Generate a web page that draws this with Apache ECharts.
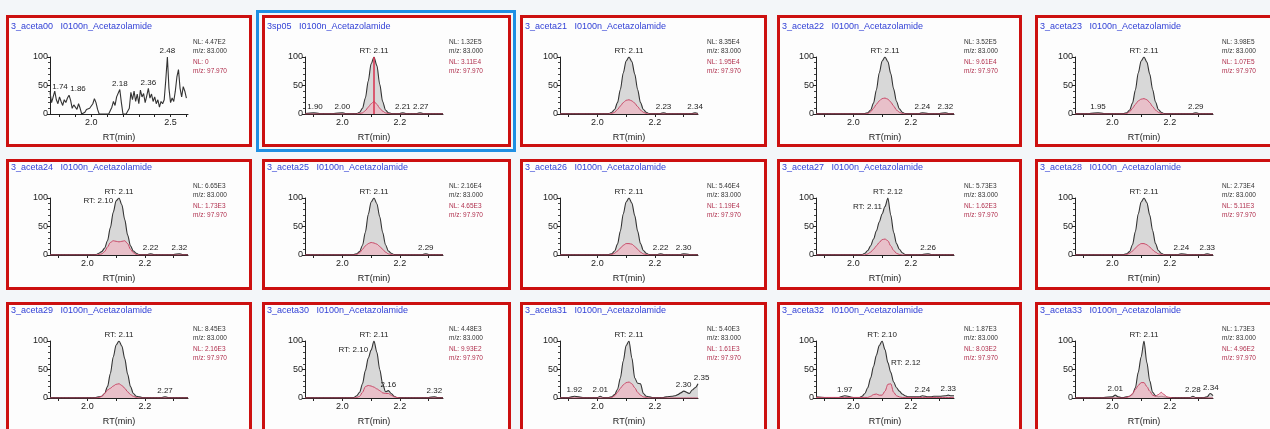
<!DOCTYPE html>
<html>
<head>
<meta charset="utf-8">
<script src="https://cdn.jsdelivr.net/npm/echarts@6/dist/echarts.min.js"></script>
<style>
html,body{margin:0;padding:0;background:#f3f6f9;}
#c{width:1270px;height:429px;}
</style>
</head>
<body>
<div id="c"></div>
<script>
// ---- retention-time grids (min) ----
const rtNoise = [1.74,1.75,1.76,1.77,1.78,1.79,1.80,1.81,1.82,1.83,
  1.84,1.85,1.86,1.87,1.88,1.89,1.90,1.91,1.92,1.93,
  1.94,1.95,1.96,1.97,1.98,1.99,2.00,2.01,2.02,2.03,
  2.04,2.05,2.06,2.07,2.08,2.09,2.10,2.11,2.12,2.13,
  2.14,2.15,2.16,2.17,2.18,2.19,2.20,2.21,2.22,2.23,
  2.24,2.25,2.26,2.27,2.28,2.29,2.30,2.31,2.32,2.33,
  2.34,2.35,2.36,2.37,2.38,2.39,2.40,2.41,2.42,2.43,
  2.44,2.45,2.46,2.47,2.48,2.49,2.50,2.51,2.52,2.53,
  2.54,2.55,2.56,2.57,2.58,2.59,2.60];
const rtGrid = [1.87,1.90,1.92,1.95,1.97,
  2.00,2.01,2.02,2.03,2.04,2.05,2.06,2.07,2.08,2.09,
  2.10,2.11,2.12,2.13,2.14,2.15,2.16,2.17,2.18,2.19,
  2.20,2.21,2.22,2.23,2.24,
  2.26,2.27,2.28,2.29,2.30,2.32,2.33,2.34,2.35];

// ---- relative abundance (%), m/z 83.000 and m/z 97.970 ----
const aceta00_83 = [38,20,30,40,25,18,30,22,15,25,
  20,28,33,24,10,16,12,8,18,10,
  0,0,3,8,9,10,12,18,27,20,
  8,0,0,0,0,0,0,0,0,12,
  22,15,30,32,43,20,0,0,0,0,
  10,38,25,40,22,35,18,42,30,36,
  20,32,45,28,35,22,30,18,25,12,
  22,18,25,60,100,45,20,28,22,40,
  65,78,45,30,48,40,28];
const sp05_83   = [1,2,1,1,1, 2,1,1,1,1,1,3,10,28,58, 88,100,85,52,22,7,2,1,1,1, 1,2,1,1,1, 1,2,1,1,1,1,1,1,1];
const sp05_98   = [0,0,0,0,0, 0,0,0,0,0,0,1,2,6,12, 18,22,17,10,5,2,1,0,0,0, 0,0,0,0,0, 0,0,0,0,0,0,0,0,0];
const aceta21_83 = [1,1,1,1,1, 1,1,1,1,1,3,8,20,43,72, 93,100,92,70,43,20,8,3,1,1, 1,1,1,2,1, 1,1,1,1,1,1,1,2,1];
const aceta21_98 = [0,0,0,0,0, 0,0,0,0,0,1,3,8,14,20, 24,25,23,19,13,7,3,1,0,0, 0,0,0,0,0, 0,0,0,0,0,0,0,0,0];
const aceta22_83 = [1,1,1,1,1, 1,1,1,1,1,2,7,19,42,72, 93,100,92,71,44,22,9,3,1,1, 1,1,1,1,2, 1,1,1,1,1,2,1,1,1];
const aceta22_98 = [0,0,0,0,0, 0,0,0,0,0,1,4,10,17,23, 27,28,26,21,14,7,3,1,0,0, 0,0,0,0,0, 0,0,0,0,0,0,0,0,0];
const aceta23_83 = [1,1,1,2,1, 1,1,1,1,1,2,7,19,42,72, 93,100,91,70,43,21,8,3,1,1, 1,1,1,1,1, 1,1,1,2,1,1,1,1,1];
const aceta23_98 = [0,0,0,0,0, 0,0,0,0,0,1,4,10,17,23, 26,27,25,20,13,7,3,1,0,0, 0,0,0,0,0, 0,0,0,0,0,0,0,0,0];
const aceta24_83 = [1,1,1,1,1, 1,1,1,1,3,6,12,25,48,75, 95,100,88,62,35,16,7,3,1,1, 1,1,2,1,1, 1,1,1,1,1,2,1,1,1];
const aceta24_98 = [0,0,0,0,0, 0,0,0,0,1,2,6,14,22,25, 24,23,24,25,20,10,4,1,0,0, 0,0,0,0,0, 0,0,0,0,0,0,0,0,0];
const aceta25_83 = [1,1,1,1,1, 1,1,1,1,1,2,6,17,40,71, 93,100,90,67,40,18,7,3,1,1, 1,1,1,1,1, 1,1,1,2,1,1,1,1,1];
const aceta25_98 = [0,0,0,0,0, 0,0,0,0,0,1,4,10,16,20, 22,21,19,15,10,5,2,1,0,0, 0,0,0,0,0, 0,0,0,0,0,0,0,0,0];
const aceta26_83 = [1,1,1,1,1, 1,1,1,1,1,2,7,19,42,72, 93,100,91,69,42,20,8,3,1,1, 1,1,2,1,1, 1,1,1,1,2,1,1,1,1];
const aceta26_98 = [0,0,0,0,0, 0,0,0,0,0,1,3,7,12,17, 20,20,19,15,10,5,2,1,0,0, 0,0,0,0,0, 0,0,0,0,0,0,0,0,0];
const aceta27_83 = [1,1,1,1,1, 1,1,1,1,3,8,16,28,42,58, 72,85,100,70,40,20,10,4,1,1, 1,1,1,1,1, 2,1,1,1,1,1,1,1,1];
const aceta27_98 = [0,0,0,0,0, 0,0,0,0,0,2,5,10,16,22, 27,28,25,16,8,3,1,0,0,0, 0,0,0,0,0, 0,0,0,0,0,0,0,0,0];
const aceta28_83 = [1,1,1,1,1, 1,1,1,1,1,2,6,18,41,72, 93,100,92,70,43,20,8,3,1,1, 1,1,1,1,2, 1,1,1,1,1,1,2,1,1];
const aceta28_98 = [0,0,0,0,0, 0,0,0,0,0,1,3,7,12,17, 20,20,18,14,9,5,2,1,0,0, 0,0,0,0,0, 0,0,0,0,0,0,0,0,0];
const aceta29_83 = [1,1,1,1,1, 1,1,1,1,2,3,8,20,43,72, 93,100,91,69,42,20,8,3,2,1, 1,1,1,1,1, 1,2,1,1,1,1,1,1,1];
const aceta29_98 = [0,0,0,0,0, 0,0,0,0,1,3,8,14,17,21, 24,25,22,17,11,6,3,1,0,0, 0,0,0,0,0, 0,0,0,0,0,0,0,0,0];
const aceta30_83 = [1,1,1,1,1, 1,1,1,1,1,4,10,25,48,70, 84,100,80,50,25,11,13,8,3,1, 1,1,1,1,1, 1,1,1,1,1,2,1,1,1];
const aceta30_98 = [0,0,0,0,0, 0,0,0,0,0,1,3,10,20,22, 21,19,16,13,9,8,8,5,2,1, 0,0,0,0,0, 0,0,0,0,0,0,0,0,0];
const aceta31_83 = [1,1,3,1,1, 1,3,1,1,1,2,6,15,35,65, 92,100,70,35,26,25,8,3,2,1, 1,1,1,1,2, 3,4,6,9,12,8,14,18,25];
const aceta31_98 = [0,0,0,0,0, 0,0,0,0,0,1,4,10,17,23, 27,28,25,18,10,5,2,1,0,0, 0,0,0,0,0, 0,0,0,0,0,0,0,0,0];
const aceta32_83 = [2,1,1,1,4, 1,1,1,3,8,18,35,55,75,92, 100,85,62,45,28,18,12,7,4,2, 2,2,2,2,4, 2,2,3,3,3,4,5,4,4];
const aceta32_98 = [1,1,1,1,1, 1,1,1,1,1,1,3,6,7,5, 5,12,24,25,10,4,2,1,1,1, 1,1,1,1,1, 1,1,1,1,1,1,1,1,1];
const aceta33_83 = [1,1,1,1,1, 2,5,2,1,1,2,3,6,18,45, 72,100,62,30,10,4,2,3,2,1, 1,1,1,1,1, 1,1,3,1,1,1,2,8,4];
const aceta33_98 = [0,0,0,0,0, 0,0,0,0,0,1,3,8,15,22, 27,27,20,12,5,3,6,10,6,2, 1,0,0,0,0, 0,0,0,0,0,0,0,0,0];

// ---- sample names, normalisation levels, labelled peaks ----
const sampleNames = ['3_aceta00','3sp05','3_aceta21','3_aceta22','3_aceta23',
  '3_aceta24','3_aceta25','3_aceta26','3_aceta27','3_aceta28',
  '3_aceta29','3_aceta30','3_aceta31','3_aceta32','3_aceta33'];
const compoundName = 'I0100n_Acetazolamide';
const nl83 = ['4.47E2','1.32E5','8.35E4','3.52E5','3.98E5','6.65E3','2.16E4','5.46E4','5.73E3','2.73E4','8.45E3','4.48E3','5.40E3','1.87E3','1.73E3'];
const nl98 = ['0','3.11E4','1.95E4','9.61E4','1.07E5','1.73E3','4.65E3','1.19E4','1.62E3','5.11E3','2.16E3','9.93E2','1.61E3','8.03E2','4.96E2'];
const rtLabels = [[],[2.11],[2.11],[2.11],[2.11],[2.11,2.10],[2.11],[2.11],[2.12,2.11],[2.11],[2.11],[2.11,2.10],[2.11],[2.10,2.12],[2.11]];
const peakLabels = [[1.74,1.86,2.18,2.36,2.48],[1.90,2.00,2.21,2.27],[2.23,2.34],[2.24,2.32],[1.95,2.29],
  [2.22,2.32],[2.29],[2.22,2.30],[2.26],[2.24,2.33],
  [2.27],[2.16,2.32],[1.92,2.01,2.30,2.35],[1.97,2.24,2.33],[2.01,2.28,2.34]];
const markedRT = [null,2.11,null,null,null,null,null,null,null,null,null,null,null,null,null];

const trace83 = [aceta00_83,sp05_83,aceta21_83,aceta22_83,aceta23_83,aceta24_83,aceta25_83,aceta26_83,aceta27_83,aceta28_83,aceta29_83,aceta30_83,aceta31_83,aceta32_83,aceta33_83];
const trace98 = [null,sp05_98,aceta21_98,aceta22_98,aceta23_98,aceta24_98,aceta25_98,aceta26_98,aceta27_98,aceta28_98,aceta29_98,aceta30_98,aceta31_98,aceta32_98,aceta33_98];

// ---- panel layout (px) ----
const colLeft = [6, 262, 520, 777, 1035];
const colWidth = [246, 249, 247, 245, 246];
const rowTop = [15, 159, 302];
const rowHeight = [132, 131, 132];
const plotLeft = [50, 305, 560, 816, 1075];
const plotTop = [57, 198, 341];
const plotW = 138, plotH = 57;
const FONT = 'Liberation Sans, Arial, sans-serif';
const PEAK_LABEL_W = 16;   // approx. width of an "x.xx" label at 8px

function valueAt(times, vals, t) {
  for (let i = 0; i < times.length; i++) {
    if (Math.abs(times[i] - t) < 1e-6) return vals[i];
    if (times[i] > t && i > 0) {
      const f = (t - times[i-1]) / (times[i] - times[i-1]);
      return vals[i-1] + f * (vals[i] - vals[i-1]);
    }
  }
  return vals[vals.length - 1];
}

const grids = [], xAxes = [], yAxes = [], series = [], graphics = [];

for (let p = 0; p < 15; p++) {
  const c = p % 5, r = Math.floor(p / 5);
  const L = colLeft[c], T = rowTop[r];
  const noisePanel = p === 0;
  const times = noisePanel ? rtNoise : rtGrid;
  const xMin = noisePanel ? 1.74 : 1.87, xMax = noisePanel ? 2.61 : 2.35;
  const pxPerMin = plotW / (xMax - xMin);

  // panel frame
  if (p === 1) {
    graphics.push({type:'rect', z:-20, shape:{x:L-4.5, y:T-3.5, width:colWidth[c]+8, height:rowHeight[r]+7},
      style:{fill:'none', stroke:'#1f8fe3', lineWidth:3}});
  }
  graphics.push({type:'rect', z:-10, shape:{x:L+1.5, y:T+1.5, width:colWidth[c]-3, height:rowHeight[r]-3},
    style:{fill:'#fdfdfd', stroke:'#cc1010', lineWidth:3}});
  // header
  graphics.push({type:'text', z:5, style:{x:L+5, y:T+(r===0?12:9), text:sampleNames[p] + '   ' + compoundName,
    fill:'#3342d6', font:'9px ' + FONT, verticalAlign:'middle'}});
  // normalisation info
  const info = [['NL: ' + nl83[p], '#333'], ['m/z: 83.000', '#333'], ['NL: ' + nl98[p], '#b0304e'], ['m/z: 97.970', '#b0304e']];
  const infoY = [27, 36, 47, 56];
  info.forEach((it, k) => graphics.push({type:'text', z:5, style:{x:L+187, y:T+infoY[k], text:it[0],
    fill:it[1], font:'6.5px ' + FONT, verticalAlign:'middle'}}));

  grids.push({left:plotLeft[c], top:plotTop[r], width:plotW, height:plotH, containLabel:false});
  xAxes.push({
    type:'value', gridIndex:p, min:xMin, max:xMax,
    name:'RT(min)', nameLocation:'middle', nameGap:19,
    nameTextStyle:{fontSize:9, color:'#222', fontFamily:FONT},
    axisLine:{show:true, onZero:false, lineStyle:{color:'#222', width:1}},
    axisTick:{show:true, length:3, lineStyle:{color:'#222'},
      customValues: noisePanel ? [1.8,1.9,2.0,2.1,2.2,2.3,2.4,2.5,2.6] : [1.9,2.0,2.1,2.2,2.3]},
    axisLabel:{show:true, fontSize:9, color:'#222', fontFamily:FONT, margin:4,
      customValues: noisePanel ? [2.0,2.5] : [2.0,2.2],
      formatter: v => v.toFixed(1)},
    splitLine:{show:false}
  });
  yAxes.push({
    type:'value', gridIndex:p, min:0, max:100, interval:50,
    axisLine:{show:true, lineStyle:{color:'#222', width:1}},
    axisTick:{show:true, length:3, lineStyle:{color:'#222'}},
    minorTick:{show:true, splitNumber:5, length:2, lineStyle:{color:'#444'}},
    axisLabel:{fontSize:9, color:'#222', fontFamily:FONT, margin:2},
    splitLine:{show:false}
  });

  // labelled retention times
  const marks = [];
  const v83 = trace83[p];
  rtLabels[p].forEach((t, k) => {
    const pos = k === 0 ? 'top' : (t < rtLabels[p][0] ? 'left' : 'right');
    marks.push({coord:[t, valueAt(times, v83, t)], value:t,
      label:{position:pos, distance: pos === 'top' ? 2 : 3, formatter: () => 'RT: ' + t.toFixed(2)}});
  });
  // small peak labels: keep clear of the y axis and of each other
  let prevRight = -Infinity;
  peakLabels[p].forEach(t => {
    const cx = (t - xMin) * pxPerMin;
    let left = cx - PEAK_LABEL_W / 2;
    if (left < 2) left = 2;
    if (left < prevRight + 2) left = prevRight + 2;
    prevRight = left + PEAK_LABEL_W;
    const shift = left + PEAK_LABEL_W / 2 - cx;
    marks.push({coord:[t, valueAt(times, v83, t)], value:t,
      label:{position:'top', distance:2, offset:[shift, 0], formatter: () => t.toFixed(2)}});
  });

  series.push({
    type:'line', xAxisIndex:p, yAxisIndex:p, z:2,
    data: times.map((t, i) => [t, v83[i]]),
    showSymbol:false, symbol:'none', silent:true,
    smooth: noisePanel ? false : 0.3, smoothMonotone:'x',
    lineStyle:{color:'#333', width:1.1},
    areaStyle: noisePanel ? undefined : {color:'#d6d6d6', opacity:0.95},
    markPoint:{symbol:'circle', symbolSize:0, silent:true, animation:false,
      label:{show:true, fontSize:8, color:'#222', fontFamily:FONT},
      data: marks}
  });
  if (trace98[p]) {
    const v98 = trace98[p];
    const s = {
      type:'line', xAxisIndex:p, yAxisIndex:p, z:3,
      data: times.map((t, i) => [t, v98[i]]),
      showSymbol:false, symbol:'none', silent:true,
      smooth:0.3, smoothMonotone:'x',
      lineStyle:{color:'#c84a68', width:1},
      areaStyle:{color:'#f0b6c3', opacity:0.7}
    };
    if (markedRT[p] !== null) {
      s.markLine = {symbol:'none', silent:true, animation:false, label:{show:false},
        lineStyle:{color:'#d8304e', width:1.5, type:'solid'},
        data:[[{coord:[markedRT[p], 0]}, {coord:[markedRT[p], 100]}]]};
    }
    series.push(s);
  }
}

const chart = echarts.init(document.getElementById('c'), null, {renderer:'canvas'});
chart.setOption({
  backgroundColor:'#f3f6f9',
  animation:false,
  textStyle:{fontFamily:FONT},
  grid:grids, xAxis:xAxes, yAxis:yAxes, series:series,
  graphic:{elements:graphics}
});
</script>
</body>
</html>
